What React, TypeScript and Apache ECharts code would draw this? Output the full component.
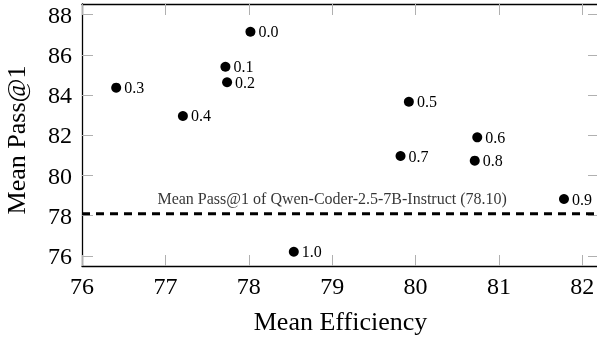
import React, { useEffect, useRef } from "react";
import * as echarts from "echarts";

const labels = ["0.0", "0.1", "0.2", "0.3", "0.4", "0.5", "0.6", "0.7", "0.8", "0.9", "1.0"];
const efficiency = [78.02, 77.72, 77.74, 76.41, 77.21, 79.92, 80.74, 79.82, 80.71, 81.78, 78.54];
const pass1 = [87.15, 85.41, 84.64, 84.37, 82.96, 83.67, 81.9, 80.97, 80.74, 78.83, 76.21];
const baseline = 78.1;
const baselineLabel = "Mean Pass@1 of Qwen-Coder-2.5-7B-Instruct (78.10)";
const xTicks = [76, 77, 78, 79, 80, 81, 82];
const yTicks = [76, 78, 80, 82, 84, 86, 88];

const FONT = "Liberation Serif";

export default function App() {
  const ref = useRef<HTMLDivElement>(null);
  useEffect(() => {
    if (!ref.current) return;
    const chart = echarts.init(ref.current, null, { renderer: "svg" });
    const tickStyle = { show: true, inside: true, length: 11, lineStyle: { color: "#b0b0b0", width: 1 } };
    const axisLine = { show: true, onZero: false, lineStyle: { color: "#000", width: 1.3 } };
    const xRange = { min: 76, max: 82.2 };
    const yRange = { min: 75.5, max: 88.53 };
    chart.setOption({
      animation: false,
      textStyle: { fontFamily: FONT },
      grid: { left: 82, top: 4, width: 517, height: 262, containLabel: false, outerBoundsMode: "none" },
      xAxis: [
        {
          type: "value",
          ...xRange,
          position: "bottom",
          axisLine,
          axisTick: { ...tickStyle, customValues: xTicks },
          axisLabel: { customValues: xTicks, color: "#000", fontFamily: FONT, fontSize: 24, margin: 8 },
          splitLine: { show: false },
          name: "Mean Efficiency",
          nameLocation: "middle",
          nameGap: 42,
          nameTextStyle: { color: "#000", fontFamily: FONT, fontSize: 26 },
        },
        {
          type: "value",
          ...xRange,
          position: "top",
          axisLine,
          axisTick: { ...tickStyle, customValues: xTicks },
          axisLabel: { show: false },
          splitLine: { show: false },
        },
      ],
      yAxis: [
        {
          type: "value",
          ...yRange,
          position: "left",
          axisLine,
          axisTick: { ...tickStyle, customValues: yTicks },
          axisLabel: { customValues: yTicks, color: "#000", fontFamily: FONT, fontSize: 24, margin: 10 },
          splitLine: { show: false },
          name: "Mean Pass@1",
          nameLocation: "middle",
          nameGap: 53,
          nameTextStyle: { color: "#000", fontFamily: FONT, fontSize: 26, padding: [0, 10, 0, 0] },
        },
        {
          type: "value",
          ...yRange,
          position: "right",
          axisLine,
          axisTick: { ...tickStyle, customValues: yTicks },
          axisLabel: { show: false },
          splitLine: { show: false },
        },
      ],
      series: [
        {
          type: "line",
          data: [[xRange.min, baseline], [xRange.max, baseline]],
          symbol: "none",
          lineStyle: { color: "#000", width: 3, type: [8, 6] },
          silent: true,
          z: 1,
        },
        {
          type: "scatter",
          data: [[79, baseline]],
          symbol: "circle",
          symbolSize: 1,
          itemStyle: { color: "rgba(0,0,0,0)" },
          label: {
            show: true,
            position: "top",
            distance: 7,
            formatter: baselineLabel,
            color: "#000",
            fontFamily: FONT,
            fontSize: 16,
          },
          silent: true,
        },
        {
          type: "scatter",
          data: efficiency.map((x, i) => ({ value: [x, pass1[i]], name: labels[i] })),
          symbol: "circle",
          symbolSize: 10,
          itemStyle: { color: "#000", opacity: 1 },
          label: {
            show: true,
            position: "right",
            distance: 3,
            formatter: (p: any) => p.name,
            color: "#000",
            fontFamily: FONT,
            fontSize: 16,
          },
          z: 3,
        },
      ],
    });
    return () => chart.dispose();
  }, []);
  return <div ref={ref} style={{ position: "fixed", left: 0, top: 0, width: 597, height: 339 }} />;
}
